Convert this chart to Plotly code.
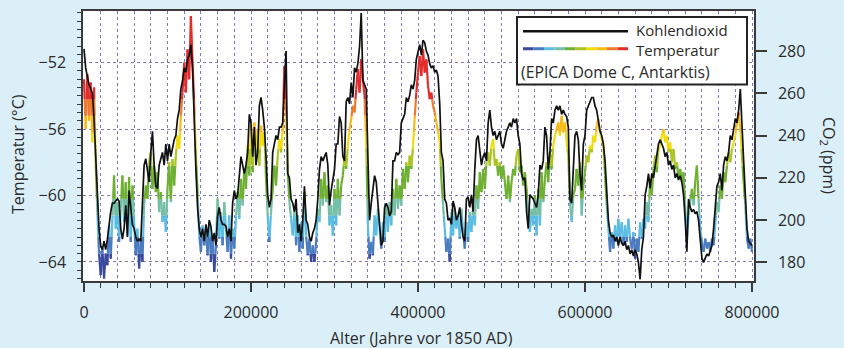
import numpy as np
import plotly.graph_objects as go

# sampling grid (kyr before 1850 AD), 2 kyr steps
age_kyr = list(range(0, 801, 2))

# EPICA Dome C temperature (deg C)
temperature = [
    -53.0, -56.0, -52.7, -55.5, -53.2, -56.8, -53.5, -58.0, -61.0, -63.5,
    -64.8, -63.2, -65.0, -63.5, -64.2, -61.8, -63.8, -61.4, -58.8, -62.0,
    -60.4, -62.8, -60.8, -58.8, -61.6, -59.2, -62.4, -58.9, -62.8, -59.4,
    -61.6, -63.6, -62.0, -64.4, -62.6, -64.0, -60.6, -59.4, -60.2, -58.0,
    -57.4, -59.6, -58.2, -59.8, -58.6, -61.0, -59.8, -61.6, -60.4, -62.2,
    -59.6, -58.0, -60.4, -57.8, -59.4, -57.6, -56.4, -57.2, -55.2, -53.8,
    -52.0, -53.8, -51.2, -53.0, -49.2, -52.0, -54.5, -57.5, -59.8, -62.4,
    -63.4, -61.8, -63.0, -62.0, -63.6, -61.6, -64.0, -62.4, -64.6, -63.0,
    -60.2, -62.6, -61.0, -63.0, -60.4, -62.0, -63.4, -61.2, -63.8, -62.0,
    -63.2, -61.4, -59.8, -61.4, -59.0, -60.6, -58.4, -59.6, -57.0, -58.8,
    -55.8, -58.6, -55.6, -57.6, -56.0, -58.2, -55.8, -57.0, -56.2, -59.0,
    -61.2, -62.8, -61.0, -59.6, -58.2, -59.4, -57.6, -56.6, -57.4, -56.0,
    -52.2, -54.8, -58.6, -60.4, -61.4, -62.4, -60.8, -63.0, -61.2, -63.4,
    -61.6, -63.2, -59.8, -62.4, -63.6, -62.6, -64.0, -63.0, -64.0, -62.8,
    -60.8, -61.6, -59.0, -60.6, -58.6, -60.4, -59.4, -61.8, -60.6, -62.4,
    -59.6, -61.8, -59.0, -61.2, -59.4, -58.8, -57.6, -58.4, -57.0, -56.0,
    -55.4, -54.6, -55.0, -53.6, -52.4, -53.8, -51.8, -53.0, -54.0, -57.0,
    -61.8, -63.8, -62.8, -63.6, -61.2, -62.4, -60.8, -62.0, -63.2, -61.6,
    -62.8, -60.6, -62.2, -60.4, -61.8, -59.6, -61.2, -59.0, -60.8, -59.4,
    -60.6, -58.4, -59.6, -58.0, -59.2, -57.6, -58.4, -57.0, -55.4, -53.8,
    -52.6, -51.6, -52.8, -51.2, -52.6, -51.8, -53.4, -54.2, -53.8, -54.6,
    -55.0, -55.6, -56.2, -56.8, -59.0, -60.6, -62.0, -63.4, -62.6, -64.0,
    -61.0, -62.4, -60.8, -62.0, -61.2, -62.6, -60.8, -62.2, -63.2, -61.6,
    -62.8, -61.0, -62.2, -60.6, -61.8, -59.4, -60.8, -58.6, -59.8, -58.4,
    -59.6, -58.0, -57.4, -58.2, -57.0, -56.6, -58.2, -57.8, -58.8, -58.0,
    -59.0, -58.2, -59.2, -60.2, -58.8, -60.4, -59.2, -58.4, -58.8, -57.6,
    -57.2, -58.6, -58.2, -59.4, -58.6, -59.6, -61.0, -62.2, -60.8, -61.8,
    -60.0, -62.4, -59.6, -61.8, -58.6, -60.4, -59.0, -58.0, -59.2, -57.4,
    -58.4, -57.0, -56.4, -56.0, -55.6, -56.4, -55.2, -56.2, -55.6, -56.8,
    -57.6, -60.4, -61.6, -60.0, -59.6, -58.4, -59.4, -58.0, -61.2, -59.4,
    -58.6, -57.6, -58.0, -57.0, -57.4, -56.4, -56.8, -55.8, -55.4, -56.2,
    -56.6, -57.0, -58.8, -60.6, -62.0, -63.4, -62.2, -63.2, -61.8, -62.8,
    -61.4, -62.6, -61.6, -63.0, -61.8, -62.8, -61.4, -62.6, -63.2, -62.2,
    -63.8, -62.6, -63.4, -61.6, -62.6, -61.4, -62.0, -60.4, -61.6, -59.0,
    -60.0, -58.4, -57.6, -58.6, -57.2, -57.0, -56.4, -56.0, -56.8, -56.4,
    -57.4, -56.8, -58.0, -57.2, -58.4, -58.0, -59.0, -58.4, -59.2, -58.6,
    -60.6, -62.6, -61.2, -60.4, -59.6, -60.6, -59.2, -58.2, -60.2, -62.0,
    -62.8, -63.4, -62.6, -63.2, -62.8, -63.4, -62.6, -63.0, -61.8, -60.4,
    -61.0, -59.4, -60.2, -58.6, -59.2, -58.2, -57.4, -58.0, -57.2, -56.8,
    -56.4, -55.6, -55.0, -56.0, -57.6, -59.2, -60.6, -62.6, -63.2, -62.6,
    -63.4,
]

# CO2 (ppm)
co2 = [
    281, 272, 268, 264, 262, 260, 248, 232, 215, 196,
    188, 186, 190, 186, 191, 198, 204, 208, 208, 209,
    210, 209, 196, 191, 196, 207, 192, 214, 205, 198,
    196, 192, 190, 191, 190, 210, 226, 229, 222, 218,
    232, 242, 226, 216, 215, 226, 229, 232, 226, 236,
    228, 236, 230, 234, 238, 240, 248, 252, 262, 266,
    272, 270, 276, 278, 283, 272, 242, 224, 206, 196,
    192, 196, 190, 198, 192, 200, 197, 190, 194, 188,
    202, 206, 200, 198, 198, 197, 192, 196, 190, 208,
    214, 210, 212, 222, 230, 226, 222, 226, 232, 250,
    246, 230, 244, 226, 232, 254, 258, 252, 244, 230,
    212, 206, 210, 232, 236, 240, 238, 244, 244, 246,
    264, 280, 222, 220, 210, 208, 204, 210, 194, 198,
    190, 200, 216, 200, 198, 192, 190, 194, 196, 200,
    210, 224, 230, 228, 230, 232, 226, 207, 214, 220,
    224, 236, 236, 249, 246, 230, 228, 256, 258, 255,
    265, 258, 272, 270, 274, 282, 298, 266, 264, 262,
    230, 200, 208, 214, 221, 218, 208, 198, 188, 190,
    206, 208, 206, 202, 204, 228, 228, 232, 231, 232,
    246, 248, 250, 258, 256, 259, 264, 262, 266, 276,
    280, 283, 278, 285, 284, 280, 278, 274, 272, 273,
    270, 271, 268, 255, 232, 228, 210, 208, 200, 201,
    198, 209, 206, 200, 202, 206, 198, 192, 190, 210,
    211, 206, 212, 204, 224, 238, 240, 234, 226, 230,
    232, 228, 246, 252, 244, 240, 242, 238, 240, 242,
    236, 234, 238, 242, 244, 246, 244, 248, 246, 248,
    240, 236, 222, 219, 220, 204, 196, 212, 211, 210,
    208, 206, 212, 226, 224, 228, 244, 240, 224, 232,
    248, 246, 252, 254, 252, 254, 250, 252, 250, 249,
    244, 210, 208, 222, 240, 242, 238, 222, 214, 236,
    240, 252, 254, 256, 258, 258, 254, 252, 246, 242,
    240, 236, 228, 210, 200, 194, 192, 193, 190, 192,
    188, 192, 189, 188, 190, 186, 188, 184, 186, 183,
    186, 184, 180, 172, 186, 192, 212, 216, 222, 215,
    222, 220, 226, 232, 236, 238, 236, 234, 230, 232,
    226, 228, 224, 226, 220, 222, 219, 221, 218, 212,
    200, 185, 210, 206, 204, 205, 203, 204, 200, 190,
    182, 180, 182, 184, 183, 186, 188, 196, 206, 216,
    218, 222, 214, 226, 230, 228, 232, 240, 238, 244,
    248, 246, 252, 262, 242, 228, 212, 196, 190, 189,
    188,
]

x_ticks = [0, 200000, 400000, 600000, 800000]
temp_ticks = [-64, -60, -56, -52]
co2_ticks = [180, 200, 220, 240, 260, 280]

# temperature colour bins (low -> high)
bin_edges = [-63.5, -62.5, -61.2, -60.2, -58.2, -57.2, -56.2, -55.2, -54.2]
bin_colors = ["#3b4a9c", "#4a7cc0", "#5bbde2", "#74bfa6", "#6fb032",
              "#aac523", "#efdc0a", "#f7bb14", "#ef7a2e", "#e32d2d"]

years = np.array(age_kyr, dtype=float) * 1000.0
temps = np.array(temperature, dtype=float)


def bin_of(t):
    return int(np.searchsorted(bin_edges, t))


seg_x = [[] for _ in bin_colors]
seg_y = [[] for _ in bin_colors]
for i in range(len(years) - 1):
    x0, x1 = years[i], years[i + 1]
    t0, t1 = temps[i], temps[i + 1]
    lo, hi = min(t0, t1), max(t0, t1)
    cuts = [e for e in bin_edges if lo < e < hi]
    pts = [(x0, t0)]
    if t1 != t0:
        fr = sorted((e - t0) / (t1 - t0) for e in cuts)
        for f in fr:
            pts.append((x0 + f * (x1 - x0), t0 + f * (t1 - t0)))
    pts.append((x1, t1))
    for (xa, ya), (xb, yb) in zip(pts[:-1], pts[1:]):
        b = bin_of((ya + yb) / 2)
        seg_x[b] += [xa, xb, None]
        seg_y[b] += [ya, yb, None]

fig = go.Figure()
for b, c in enumerate(bin_colors):
    fig.add_trace(go.Scatter(x=seg_x[b], y=seg_y[b], mode="lines",
                             line=dict(color=c, width=2.2), showlegend=False,
                             hoverinfo="skip", yaxis="y"))

fig.add_trace(go.Scatter(x=years, y=co2, mode="lines",
                         line=dict(color="#111111", width=1.7),
                         showlegend=False, yaxis="y2", name="Kohlendioxid"))

FONT = "Open Sans, Noto Sans, sans-serif"
TXT = "#2a2a2a"
AX = "#3a3a3a"
GRID = "#7b7bbd"

W, H = 844, 348
L, R, T, B = 83, 90, 9, 67
pw, ph = W - L - R, H - T - B


def px(xp):
    return (xp - L) / pw


def py(yp):
    return (H - B - yp) / ph


fig.update_layout(
    width=W, height=H,
    margin=dict(l=L, r=R, t=T, b=B, pad=0),
    paper_bgcolor="#dbeff9",
    plot_bgcolor="#ffffff",
    font=dict(family=FONT, size=16, color=TXT),
    showlegend=False,
    xaxis=dict(
        range=[-1200, 802400], tickvals=x_ticks, tickformat="d",
        ticks="outside", ticklen=9, tickwidth=1.5, tickcolor=AX,
        showline=True, linecolor=AX, linewidth=1.5, mirror=True,
        showgrid=True, gridcolor=GRID, griddash="dot", gridwidth=1,
        zeroline=False,
        minor=dict(dtick=20000, tick0=0, ticks="outside", ticklen=5,
                   tickwidth=1.2, tickcolor=AX, showgrid=True,
                   gridcolor=GRID, griddash="dot", gridwidth=1),
        tickfont=dict(size=16, color=TXT),
        ticklabelstandoff=7,
    ),
    yaxis=dict(
        range=[-65.15, -48.89], tickvals=temp_ticks,
        ticks="outside", ticklen=4, tickwidth=1.2, tickcolor=AX,
        showline=True, linecolor=AX, linewidth=1.5,
        showgrid=True, gridcolor=GRID, griddash="dot", gridwidth=1,
        zeroline=False,
        minor=dict(dtick=0.5, tick0=-64, ticks="outside", ticklen=4,
                   tickwidth=1.2, tickcolor=AX, showgrid=False),
        tickfont=dict(size=16, color=TXT),
        ticklabelstandoff=8,
    ),
    yaxis2=dict(
        range=[171.2, 298.9], tickvals=co2_ticks, overlaying="y", side="right",
        ticks="outside", ticklen=11, tickwidth=1.5, tickcolor=AX,
        showline=True, linecolor=AX, linewidth=1.5,
        showgrid=False, zeroline=False,
        tickfont=dict(size=16, color=TXT),
        ticklabelstandoff=8,
    ),
)

LEG = dict(size=15, color=TXT)
annotations = [
    dict(text="Temperatur (°C)", x=px(18), y=py(153), xref="paper", yref="paper",
         textangle=-90, showarrow=False, font=dict(size=16, color=TXT),
         xanchor="center", yanchor="middle"),
    dict(text="CO<sub>2</sub> (ppm)", x=px(828), y=py(154), xref="paper", yref="paper",
         textangle=90, showarrow=False, font=dict(size=16, color=TXT),
         xanchor="center", yanchor="middle"),
    dict(text="Alter (Jahre vor 1850 AD)", x=px(422), y=py(338), xref="paper",
         yref="paper", showarrow=False, font=dict(size=16, color=TXT),
         xanchor="center", yanchor="middle"),
    dict(text="Kohlendioxid", x=px(635), y=py(28.5), xref="paper", yref="paper",
         showarrow=False, font=LEG, borderpad=0,
         xanchor="left", yanchor="middle"),
    dict(text="Temperatur", x=px(635), y=py(48.5), xref="paper", yref="paper",
         showarrow=False, font=LEG, borderpad=0,
         xanchor="left", yanchor="middle"),
    dict(text="(EPICA Dome C, Antarktis)", x=px(520), y=py(70.5), xref="paper",
         yref="paper", showarrow=False, font=dict(size=15.8, color=TXT),
         borderpad=0, xanchor="left", yanchor="middle"),
]

shapes = [
    dict(type="rect", xref="paper", yref="paper", x0=px(517), x1=px(747),
         y0=py(83), y1=py(15), fillcolor="#ffffff",
         line=dict(color="#222222", width=2), layer="above"),
    dict(type="line", xref="paper", yref="paper", x0=px(523), x1=px(628),
         y0=py(29.3), y1=py(29.3), line=dict(color="#111111", width=2.5),
         layer="above"),
]
seg_w = (628 - 523) / len(bin_colors)
for k, c in enumerate(bin_colors):
    shapes.append(dict(type="line", xref="paper", yref="paper",
                       x0=px(523 + k * seg_w), x1=px(523 + (k + 1) * seg_w),
                       y0=py(47), y1=py(47), line=dict(color=c, width=3),
                       layer="above"))

fig.update_layout(annotations=annotations, shapes=shapes)

fig.write_html("out.html")
